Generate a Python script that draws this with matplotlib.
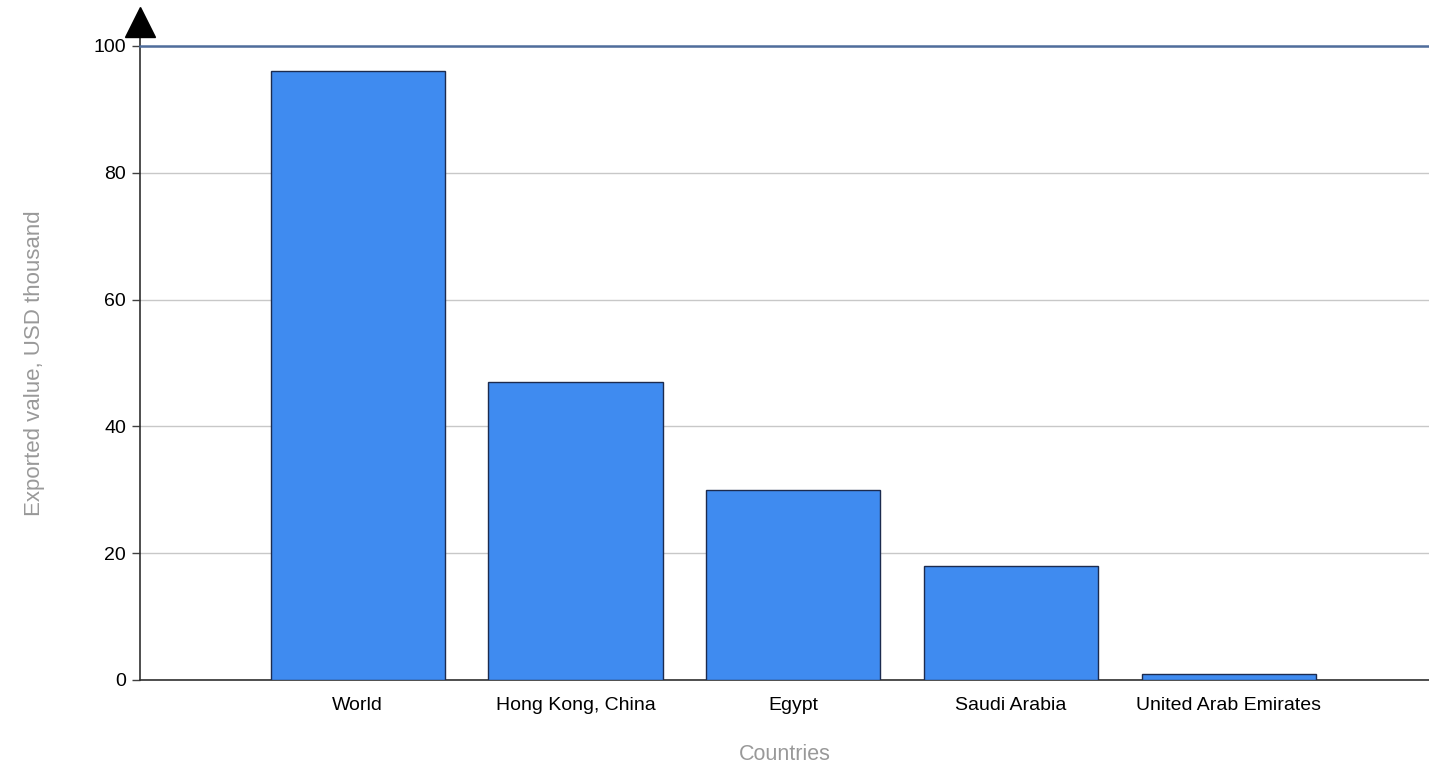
import matplotlib.pyplot as plt
import numpy as np

countries = ["World", "Hong Kong, China", "Egypt", "Saudi Arabia", "United Arab Emirates"]
values = [96, 47, 30, 18, 1]
y_ticks = [0, 20, 40, 60, 80, 100]

plt.rcParams['font.family'] = ['Liberation Sans', 'DejaVu Sans']

fig = plt.figure(figsize=(14.29, 7.66), dpi=100)
ax = fig.add_axes([0.098, 0.1123, 0.902, 0.8277])

x = np.arange(len(countries))
ax.bar(x, values, width=0.8, color='#3f8bf0', edgecolor='#1c2b4f', linewidth=1, zorder=3)

ax.set_xlim(-1, 4.92)
ax.set_ylim(0, 100)
ax.set_yticks(y_ticks)
ax.set_xticks(x)
ax.set_xticklabels(countries, fontsize=14)
ax.tick_params(axis='x', length=0, pad=12)
ax.tick_params(axis='y', length=6, width=1, color='#404040', labelsize=14, pad=4)

ax.grid(axis='y', color='#c8c8c8', linewidth=1, zorder=0)
ax.axhline(100, color='#4f6d9c', linewidth=1.8, zorder=4, clip_on=False)

for s in ['top', 'right']:
    ax.spines[s].set_visible(False)
ax.spines['left'].set_color('#303030')
ax.spines['bottom'].set_color('#303030')
ax.spines['left'].set_linewidth(1.2)
ax.spines['bottom'].set_linewidth(1.2)

# axis arrow on top of the y axis
ax.plot([0, 0], [1.0, 1.03], transform=ax.transAxes, color='#303030', lw=1.2, clip_on=False)
ax.plot(0, 1.038, marker='^', markersize=22, color='black', transform=ax.transAxes, clip_on=False)

ax.set_ylabel("Exported value, USD thousand", fontsize=16, color='#999999', labelpad=35)
ax.set_xlabel("Countries", fontsize=15.5, color='#999999', labelpad=22)

plt.savefig("out.png", dpi=100)
plt.close()
